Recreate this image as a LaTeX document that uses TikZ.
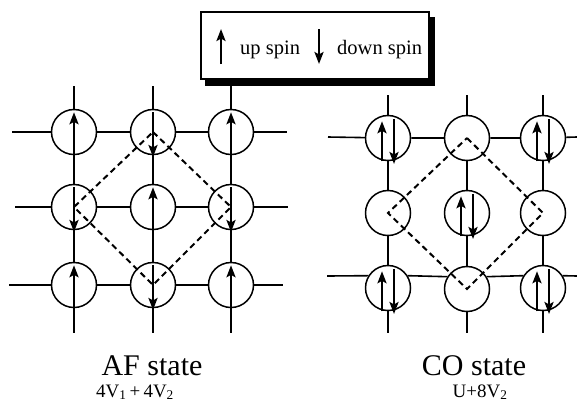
\documentclass[tikz,border=0pt]{standalone}
\usepackage{fontspec}
\setmainfont{Liberation Serif}
\usetikzlibrary{arrows.meta}
\begin{document}
\begin{tikzpicture}[x=1pt, y=-1pt,
    site/.style={circle, draw, fill=white, minimum size=45pt, inner sep=0pt, line width=1.5pt},
    bond/.style={line width=1.6pt},
    spin/.style={->, >={Stealth[length=12pt, width=9pt, inset=2.5pt]}, line width=2.5pt},
    ring/.style={dash pattern=on 6pt off 4pt, line width=2pt},
    keybox/.style={draw, line width=1.3pt, minimum width=228pt, minimum height=67pt, inner sep=0pt},
    lbl/.style={anchor=base, inner sep=0pt}]
    \useasboundingbox (0,0) rectangle (577,405);
    % legend
    \node[keybox, fill=black] (shadow) at (320,51.5) {};
    \node[keybox, fill=white] (legend) at (315,45.5) {};
    \node[lbl, anchor=base west] (uptext) at (240,54) {\fontsize{20.5}{24}\selectfont up spin};
    \node[lbl, anchor=base west] (downtext) at (337,54) {\fontsize{20.5}{24}\selectfont down spin};
    \coordinate (upA) at (221,64);
    \coordinate (upB) at (221,29);
    \coordinate (dnA) at (319,29);
    \coordinate (dnB) at (319,64);
    \draw[spin] (upA) -- (upB);
    \draw[spin] (dnA) -- (dnB);
    % AF state
    \node[site] (a11) at (74,132) {};
    \node[site] (a12) at (153,132) {};
    \node[site] (a13) at (231,132) {};
    \node[site] (a21) at (74,207) {};
    \node[site] (a22) at (153,207) {};
    \node[site] (a23) at (231,207) {};
    \node[site] (a31) at (74,285) {};
    \node[site] (a32) at (153,285) {};
    \node[site] (a33) at (231,285) {};
    \coordinate (aw1) at (12,132);
    \coordinate (ae1) at (287,132);
    \coordinate (aw2) at (15,207);
    \coordinate (ae2) at (288,207);
    \coordinate (aw3) at (9,285);
    \coordinate (ae3) at (283,285);
    \coordinate (an1) at (74,86);
    \coordinate (an2) at (153,86);
    \coordinate (as1) at (74,333);
    \coordinate (as2) at (153,333);
    \coordinate (as3) at (231,333);
    \draw[bond] (aw1) -- (a11) -- (a12) -- (a13) -- (ae1);
    \draw[bond] (aw2) -- (a21) -- (a22) -- (a23) -- (ae2);
    \draw[bond] (aw3) -- (a31) -- (a32) -- (a33) -- (ae3);
    \draw[bond] (an1) -- (a11) -- (a21) -- (a31) -- (as1);
    \draw[bond] (an2) -- (a12) -- (a22) -- (a32) -- (as2);
    \draw[bond] (a13 |- shadow.south) -- (a13) -- (a23) -- (a33) -- (as3);
    \draw[spin] (a11.south) -- ++(0,-43);
    \draw[spin] ([yshift=20pt]a12.center) -- ++(0,45);
    \draw[spin] (a13.south) -- ++(0,-43);
    \draw[spin] ([yshift=20pt]a21.center) -- ++(0,45);
    \draw[spin] (a22.south) -- ++(0,-43);
    \draw[spin] ([yshift=20pt]a23.center) -- ++(0,45);
    \draw[spin] (a31.south) -- ++(0,-43);
    \draw[spin] ([yshift=20pt]a32.center) -- ++(0,45);
    \draw[spin] (a33.south) -- ++(0,-43);
    \draw[ring] (a12.center) -- (a23.center) -- (a32.center) -- (a21.center) -- cycle;
    \node[lbl] (aflabel) at (152,375) {\fontsize{30}{34}\selectfont AF state};
    \node[lbl] (afenergy) at (135,397) {\fontsize{19}{22}\selectfont 4V\textsubscript{1}\,+\,4V\textsubscript{2}};
    % CO state
    \node[site] (c11) at (388,138) {};
    \node[site] (c12) at (467,138) {};
    \node[site] (c13) at (543,138) {};
    \node[site] (c21) at (388,213) {};
    \node[site] (c22) at (467,213) {};
    \node[site] (c23) at (543,213) {};
    \node[site] (c31) at (388,288) {};
    \node[site] (c32) at (467,289) {};
    \node[site] (c33) at (543,288) {};
    \coordinate (cw1) at (328,137);
    \coordinate (ce1) at (577,137);
    \coordinate (cw3) at (327,276);
    \coordinate (ce3) at (577,276);
    \coordinate (cn1) at (388,95);
    \coordinate (cn2) at (467,95);
    \coordinate (cn3) at (543,95);
    \coordinate (cs1) at (388,333);
    \coordinate (cs2) at (467,333);
    \coordinate (cs3) at (543,333);
    \draw[bond] (cw1) -- (c11) -- (c12) -- (c13) -- (ce1);
    \draw[bond] (cw3) -- (c31.148);
    \draw[bond] (c31.32) -- (c32.148);
    \draw[bond] (c32.32) -- (c33.148);
    \draw[bond] (c33.32) -- (ce3);
    \draw[bond] (cn1) -- (c11) -- (c21) -- (c31) -- (cs1);
    \draw[bond] (cn2) -- (c12) -- (c22) -- (c32) -- (cs2);
    \draw[bond] (cn3) -- (c13) -- (c23) -- (c33) -- (cs3);
    \draw[spin] ([xshift=-6pt]c11.south) -- ++(0,-40);
    \draw[spin] ([xshift=6pt, yshift=19pt]c11.center) -- ++(0,45);
    \draw[spin] ([xshift=-6pt]c13.south) -- ++(0,-40);
    \draw[spin] ([xshift=6pt, yshift=19pt]c13.center) -- ++(0,45);
    \draw[spin] ([xshift=-6pt]c22.south) -- ++(0,-40);
    \draw[spin] ([xshift=6pt, yshift=19pt]c22.center) -- ++(0,45);
    \draw[spin] ([xshift=-6pt]c31.south) -- ++(0,-40);
    \draw[spin] ([xshift=6pt, yshift=19pt]c31.center) -- ++(0,45);
    \draw[spin] ([xshift=-6pt]c33.south) -- ++(0,-40);
    \draw[spin] ([xshift=6pt, yshift=19pt]c33.center) -- ++(0,45);
    \draw[ring] (c12.center) -- (c23.center) -- (c32.center) -- (c21.center) -- cycle;
    \node[lbl] (colabel) at (474,375) {\fontsize{30}{34}\selectfont CO state};
    \node[lbl] (coenergy) at (480,397) {\fontsize{19}{22}\selectfont U+8V\textsubscript{2}};
\end{tikzpicture}
\end{document}
